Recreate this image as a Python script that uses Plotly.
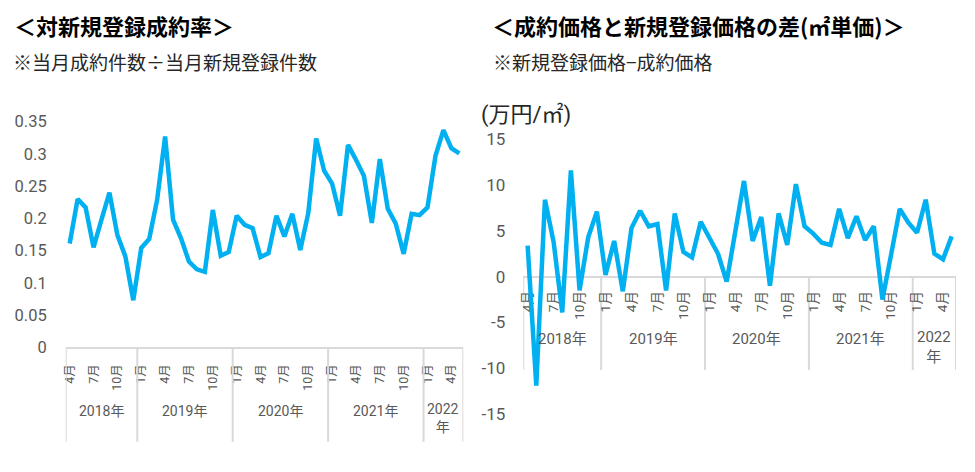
import pandas as pd
import plotly.graph_objects as go

# Monthly periods: April 2018 - May 2022
periods = pd.date_range("2018-04-01", "2022-05-01", freq="MS")

# Contract rate against new listings (left)
contract_rate = [
    0.161, 0.230, 0.217, 0.155, 0.198, 0.240, 0.174, 0.141, 0.073,
    0.154, 0.168, 0.229, 0.327, 0.198, 0.169, 0.133, 0.121, 0.117, 0.213, 0.142, 0.148, 0.204,
    0.190, 0.185, 0.140, 0.146, 0.204, 0.172, 0.207, 0.151, 0.208, 0.324, 0.274, 0.254,
    0.204, 0.314, 0.291, 0.266, 0.193, 0.292, 0.215, 0.192, 0.145, 0.207, 0.205, 0.217,
    0.297, 0.337, 0.309, 0.301,
]

# Difference between listing price and contract price, per m2 (right)
price_gap = [
    3.4, -11.9, 8.4, 3.8, -3.9, 11.6, -1.5, 4.3, 7.1,
    0.2, 3.9, -1.6, 5.3, 7.2, 5.5, 5.75, -1.5, 6.9, 2.7, 2.1, 6.0,
    4.3, 2.5, -0.55, 4.9, 10.45, 3.9, 6.5, -1.0, 6.9, 3.46, 10.1, 5.5,
    4.7, 3.7, 3.46, 7.4, 4.2, 6.6, 4.0, 5.5, -2.5, 2.4, 7.4, 5.9,
    4.8, 8.4, 2.5, 1.9, 4.4,
]

year_names = ["2018年", "2019年", "2020年", "2021年", "2022<br>年"]
shown_months = [1, 4, 7, 10]

left_yticks = [0, 0.05, 0.1, 0.15, 0.2, 0.25, 0.3, 0.35]
left_ytext = ["0", "0.05", "0.1", "0.15", "0.2", "0.25", "0.3", "0.35"]
right_yticks = [-15, -10, -5, 0, 5, 10, 15]
right_ytext = ["-15", "-10", "-5", "0", "5", "10", "15"]

BLUE = "#00B0F0"
GREY = "#595959"
LINE = "#D9D9D9"
FONT = "Roboto, Noto Sans CJK JP, sans-serif"
JFONT = "Noto Sans CJK JP, sans-serif"

# the page body has an 8px margin, so the figure is made smaller and
# positions are given in window pixels
OFF = 8
W, H = 975 - OFF, 472 - OFF


def px(x):
    return (x - OFF) / W


def py(y):
    return 1 - (y - OFF) / H


idx = list(range(len(periods)))
tick_idx = [i for i, p in enumerate(periods) if p.month in shown_months]
tick_txt = [f"{periods[i].month}月" for i in tick_idx]

# year group boundaries and centres (in index units)
years = sorted(set(p.year for p in periods))
bounds = [-0.5]
for y in years:
    bounds.append(max(i for i, p in enumerate(periods) if p.year == y) + 0.5)
centres = [(bounds[k] + bounds[k + 1]) / 2 for k in range(len(years))]

fig = go.Figure()
fig.add_trace(go.Scatter(x=idx, y=contract_rate, mode="lines",
                         line=dict(color=BLUE, width=4.5), xaxis="x", yaxis="y"))
fig.add_trace(go.Scatter(x=idx, y=price_gap, mode="lines",
                         line=dict(color=BLUE, width=4.5), xaxis="x2", yaxis="y2"))

# dividers between years
shapes = []
for b in bounds:
    shapes.append(dict(type="line", xref="x", yref="paper", x0=b, x1=b,
                       y0=py(347.3), y1=py(441.7), line=dict(color=LINE, width=2)))
    shapes.append(dict(type="line", xref="x2", yref="paper", x0=b, x1=b,
                       y0=py(276.7), y1=py(370), line=dict(color=LINE, width=2), layer="below"))

annotations = []
for c, name in zip(centres, year_names):
    yl = py(418) if "<br>" in name else py(411)
    yr = py(346.5) if "<br>" in name else py(339.3)
    annotations.append(dict(text=name, x=c, xref="x", y=yl, yref="paper", showarrow=False,
                            font=dict(family=FONT, size=14, color=GREY), yanchor="middle"))
    annotations.append(dict(text=name, x=c, xref="x2", y=yr, yref="paper", showarrow=False,
                            font=dict(family=FONT, size=15, color=GREY), yanchor="middle"))

annotations += [
    dict(text="<b>＜対新規登録成約率＞</b>", x=px(12), y=py(25), xref="paper", yref="paper",
         xanchor="left", yanchor="middle", showarrow=False,
         font=dict(family=JFONT, size=22, color="#000000")),
    dict(text="※当月成約件数÷当月新規登録件数", x=px(11), y=py(61), xref="paper", yref="paper",
         xanchor="left", yanchor="middle", showarrow=False,
         font=dict(family=JFONT, size=19, color="#262626")),
    dict(text="<b>＜成約価格と新規登録価格の差(㎡単価)＞</b>", x=px(490), y=py(25), xref="paper",
         yref="paper", xanchor="left", yanchor="middle", showarrow=False,
         font=dict(family=JFONT, size=22, color="#000000")),
    dict(text="※新規登録価格−成約価格", x=px(491), y=py(61), xref="paper", yref="paper",
         xanchor="left", yanchor="middle", showarrow=False,
         font=dict(family=JFONT, size=19, color="#262626")),
    dict(text="(万円/㎡)", x=px(479), y=py(115), xref="paper", yref="paper",
         xanchor="left", yanchor="middle", showarrow=False,
         font=dict(family=FONT, size=22, color="#262626")),
]

fig.update_layout(
    width=W, height=H,
    margin=dict(l=0, r=0, t=0, b=0, autoexpand=False),
    paper_bgcolor="white", plot_bgcolor="white",
    showlegend=False,
    shapes=shapes, annotations=annotations,
    xaxis=dict(domain=[px(65.7), px(463.3)], range=[-0.5, 49.5], anchor="y", automargin=False,
               tickvals=tick_idx, ticktext=tick_txt, tickangle=-90,
               ticks="outside", ticklen=10, tickcolor="rgba(0,0,0,0)",
               tickfont=dict(family=FONT, size=12.5, color=GREY),
               showline=True, linecolor=LINE, linewidth=2,
               showgrid=False, zeroline=False),
    yaxis=dict(domain=[py(347.3), py(121.7)], range=[0, 0.35], anchor="x", automargin=False,
               tickvals=left_yticks, ticktext=left_ytext,
               ticklabelstandoff=18,
               tickfont=dict(family=FONT, size=16.5, color=GREY),
               showline=False, showgrid=False, zeroline=False),
    xaxis2=dict(domain=[px(523.3), px(956)], range=[-0.5, 49.5], anchor="free", automargin=False,
                position=py(276.7), layer="below traces",
                tickvals=tick_idx, ticktext=tick_txt, tickangle=-90,
                ticks="outside", ticklen=8, tickcolor="rgba(0,0,0,0)",
                tickfont=dict(family=FONT, size=13.5, color=GREY),
                showline=True, linecolor=LINE, linewidth=2,
                showgrid=False, zeroline=False),
    yaxis2=dict(domain=[py(414), py(139.3)], range=[-15, 15], anchor="x2", automargin=False,
                tickvals=right_yticks, ticktext=right_ytext,
                ticklabelstandoff=17,
                tickfont=dict(family=FONT, size=17, color=GREY),
                showline=False, showgrid=False, zeroline=False),
)

fig.write_html("out.html")
